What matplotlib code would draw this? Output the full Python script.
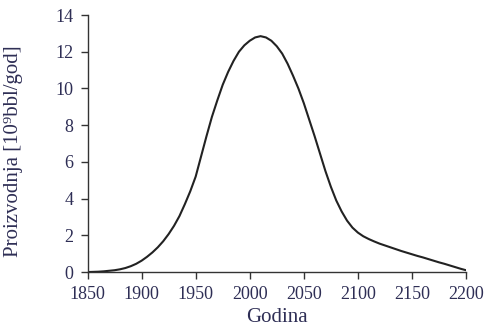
import numpy as np
import matplotlib
matplotlib.use('Agg')
import matplotlib.pyplot as plt

# values (every 5 years)
years = list(range(1850, 2205, 5))
production = [0.0, 0.01, 0.02, 0.04, 0.07, 0.1, 0.15, 0.22, 0.32, 0.45,
              0.62, 0.83, 1.07, 1.35, 1.68, 2.07, 2.52, 3.05, 3.7, 4.4,
              5.2, 6.3, 7.4, 8.45, 9.35, 10.2, 10.9, 11.5, 12.0, 12.35,
              12.6, 12.78, 12.85, 12.78, 12.6, 12.3, 11.9, 11.35, 10.7, 10.0,
              9.2, 8.3, 7.4, 6.45, 5.5, 4.65, 3.9, 3.3, 2.8, 2.42,
              2.15, 1.95, 1.8, 1.67, 1.55, 1.45, 1.35, 1.25, 1.15, 1.06,
              0.97, 0.88, 0.8, 0.71, 0.62, 0.53, 0.45, 0.36, 0.27, 0.18,
              0.1]
xticks = [1850, 1900, 1950, 2000, 2050, 2100, 2150, 2200]
yticks = [0, 2, 4, 6, 8, 10, 12, 14]

text_col = '#2e2e55'
plt.rcParams['font.family'] = ['Liberation Serif', 'DejaVu Serif']

fig = plt.figure(figsize=(4.89, 3.27), dpi=100)
ax = fig.add_axes([0.179, 0.168, 0.774, 0.786])

ax.plot(years, production, color='#222222', lw=1.5, solid_capstyle='round')

ax.set_xlim(1850, 2200)
ax.set_ylim(0, 14)
ax.set_xticks(xticks)
ax.set_yticks(yticks)

for s in ['top', 'right']:
    ax.spines[s].set_visible(False)
for s in ['left', 'bottom']:
    ax.spines[s].set_color('#333333')
    ax.spines[s].set_linewidth(1.0)

ax.tick_params(axis='both', direction='out', colors='#333333', labelcolor=text_col,
               labelsize=13, length=5, width=1.0)
ax.tick_params(axis='x', pad=5)
ax.tick_params(axis='y', pad=5)

ax.set_xlabel('Godina', fontsize=15, color=text_col)
ax.xaxis.set_label_coords(0.5, -0.14)
ax.set_ylabel('Proizvodnja [10⁹bbl/god]', fontsize=15, color=text_col)
ax.yaxis.set_label_coords(-0.17, 0.47)

plt.savefig('out.png', dpi=100)
